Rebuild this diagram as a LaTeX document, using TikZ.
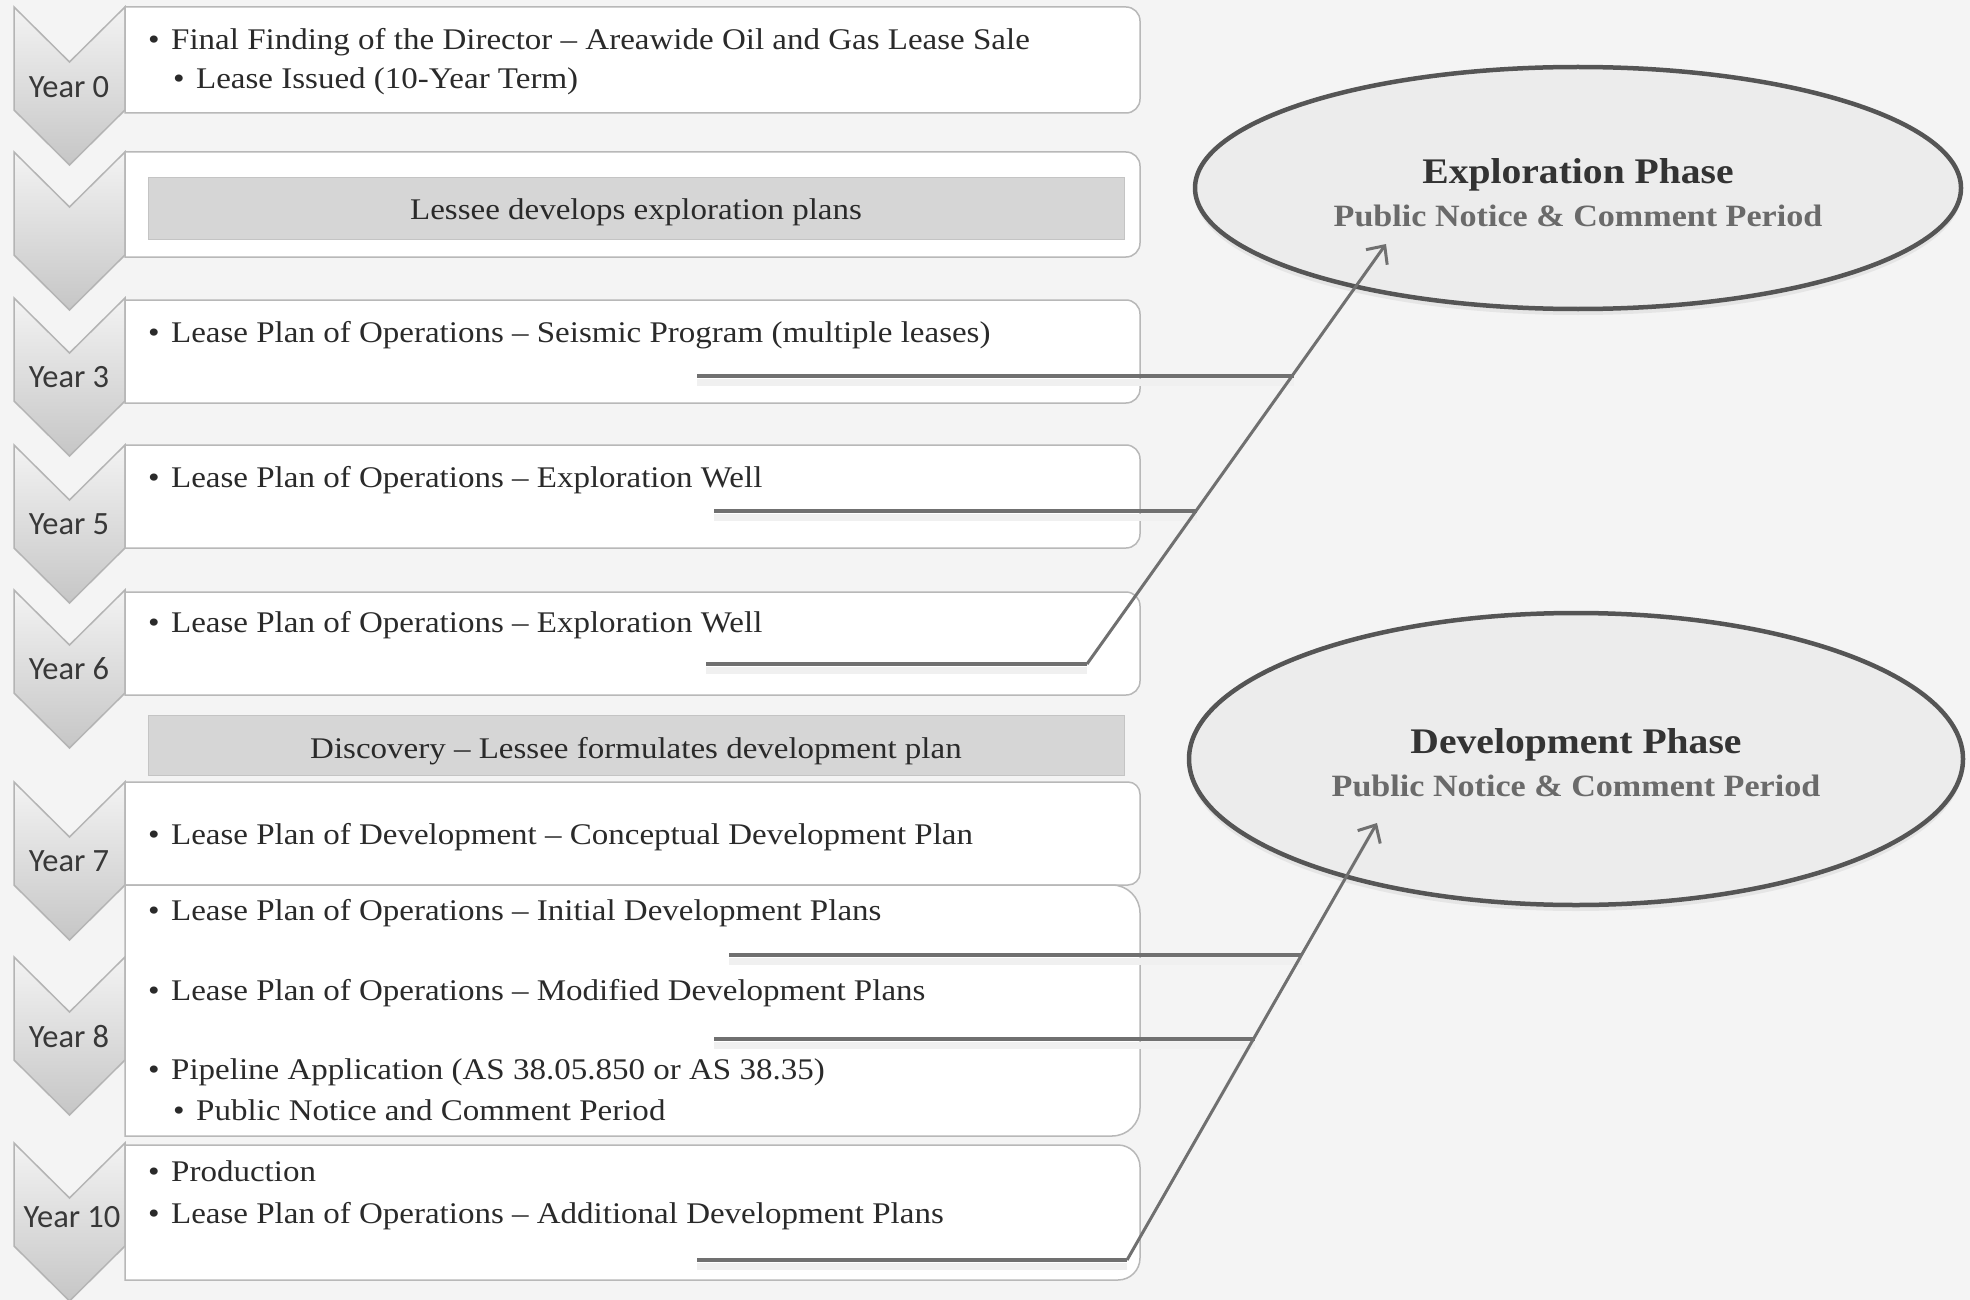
\documentclass[tikz,border=0pt]{standalone}
\usepackage{fontspec}
\setmainfont{Liberation Serif}[FakeStretch=1.1]
\newfontfamily\yearfont{Carlito}
\usetikzlibrary{shapes.geometric,arrows.meta,shadows}
\definecolor{bgcol}{HTML}{F4F4F4}
\definecolor{chevline}{HTML}{B4B4B4}
\definecolor{chevtop}{HTML}{F3F3F3}
\definecolor{chevbot}{HTML}{C6C6C6}
\definecolor{boxline}{HTML}{B8B8B8}
\definecolor{bandfill}{HTML}{D6D6D6}
\definecolor{bandline}{HTML}{C4C4C4}
\definecolor{txtcol}{HTML}{2A2A2A}
\definecolor{yrcol}{HTML}{383838}
\definecolor{conncol}{HTML}{707070}
\definecolor{ellcol}{HTML}{555555}
\definecolor{ellfill}{HTML}{ECECEC}
\definecolor{titlecol}{HTML}{333333}
\definecolor{subcol}{HTML}{6A6A6A}
\newcommand\mybul{\makebox[23pt][l]{\textbullet}}
\newcommand\mychev[1]{%
  \path[chev] (14,#1) -- (69.5,{#1+55}) -- (125,#1) -- (125,{#1+103}) -- (69.5,{#1+158}) -- (14,{#1+103}) -- cycle;}
\newcommand\mybox[3]{%
  \path[wbox] (125,#1) -- ({1140-#3},#1) arc[start angle=-90,end angle=0,radius=#3] -- (1140,{#2-#3}) arc[start angle=0,end angle=90,radius=#3] -- (125,#2) -- cycle;}
\tikzset{
  chev/.style={draw=chevline, line width=1.5pt, top color=chevtop, bottom color=chevbot},
  wbox/.style={draw=boxline, line width=1.5pt, fill=white},
  band/.style={draw=bandline, line width=1pt, fill=bandfill},
  txt/.style={anchor=mid west, inner sep=0pt, text=txtcol, font=\fontsize{30}{32}\selectfont},
  bandtxt/.style={anchor=mid, inner sep=0pt, text=txtcol, font=\fontsize{30}{32}\selectfont},
  yr/.style={anchor=mid, inner sep=0pt, text=yrcol, font=\yearfont\fontsize{32.5}{34}\selectfont},
  conn/.style={draw=conncol, line width=4pt},
  connsh/.style={draw=black!6, line width=7pt},
  diag/.style={draw=conncol, line width=3pt, -{Straight Barb[length=14pt,width=26pt,line width=3pt]}},
  phase/.style={ellipse, draw=ellcol, line width=4.5pt, fill=ellfill, inner sep=0pt,
    drop shadow={opacity=0.12, shadow xshift=0pt, shadow yshift=-6pt}},
  ttl/.style={anchor=mid, inner sep=0pt, text=titlecol, font=\bfseries\fontsize{36}{38}\selectfont},
  sub/.style={anchor=mid, inner sep=0pt, text=subcol, font=\bfseries\fontsize{31}{33}\selectfont}
}
\begin{document}
\begin{tikzpicture}[x=1pt,y=-1pt]
\useasboundingbox (0,0) rectangle (1970,1300);
\fill[bgcol] (0,0) rectangle (1970,1300);

% chevrons
\mychev{7}
\mychev{152}
\mychev{298}
\mychev{445}
\mychev{590}
\mychev{782}
\mychev{957}
\mychev{1143}

% boxes
\mybox{7}{113}{14}
\mybox{152}{257}{14}
\mybox{300}{403}{14}
\mybox{445}{548}{14}
\mybox{592}{695}{14}
\mybox{782}{885}{12}
\mybox{885}{1136}{28}
\mybox{1145}{1280}{22}

% bands
\path[band] (148,178) rectangle (1124,239);
\path[band] (148,715) rectangle (1124,775);

% year labels
\node[yr] (y0) at (69,95) {Year 0};
\node[yr] (y3) at (69,385) {Year 3};
\node[yr] (y5) at (69,532) {Year 5};
\node[yr] (y6) at (69,677) {Year 6};
\node[yr] (y7) at (69,869) {Year 7};
\node[yr] (y8) at (69,1045) {Year 8};
\node[yr] (y10) at (72,1225) {Year 10};

% texts
\node[txt] (t0a) at (148,47) {\mybul Final Finding of the Director – Areawide Oil and Gas Lease Sale};
\node[txt] (t0b) at (173,86) {\mybul Lease Issued (10-Year Term)};
\node[bandtxt] (b1) at (636,217) {Lessee develops exploration plans};
\node[txt] (t3) at (148,340) {\mybul Lease Plan of Operations – Seismic Program (multiple leases)};
\node[txt] (t5) at (148,485) {\mybul Lease Plan of Operations – Exploration Well};
\node[txt] (t6) at (148,630) {\mybul Lease Plan of Operations – Exploration Well};
\node[bandtxt] (b2) at (636,756) {Discovery – Lessee formulates development plan};
\node[txt] (t7) at (148,842) {\mybul Lease Plan of Development – Conceptual Development Plan};
\node[txt] (t8a) at (148,918) {\mybul Lease Plan of Operations – Initial Development Plans};
\node[txt] (t8b) at (148,998) {\mybul Lease Plan of Operations – Modified Development Plans};
\node[txt] (t8c) at (148,1077) {\mybul Pipeline Application (AS 38.05.850 or AS 38.35)};
\node[txt] (t8d) at (173,1118) {\mybul Public Notice and Comment Period};
\node[txt] (t10a) at (148,1179) {\mybul Production};
\node[txt] (t10b) at (148,1221) {\mybul Lease Plan of Operations – Additional Development Plans};

% ellipses
\node[phase, minimum width=766pt, minimum height=242pt] (expl) at (1578,188) {};
\node[ttl] (explT) at (1578,181) {Exploration Phase};
\node[sub] (explS) at (1578,224) {Public Notice \& Comment Period};
\node[phase, minimum width=774pt, minimum height=292pt] (devl) at (1576,759) {};
\node[ttl] (devlT) at (1576,751) {Development Phase};
\node[sub] (devlS) at (1576,794) {Public Notice \& Comment Period};

% connector coordinates
\coordinate (e1s) at (697,376); \coordinate (e1e) at (1294,376);
\coordinate (e2s) at (714,511); \coordinate (e2e) at (1197,511);
\coordinate (e3s) at (706,664); \coordinate (e3e) at (1087,664);
\coordinate (etip) at (1386,244);
\coordinate (d1s) at (729,955); \coordinate (d1e) at (1302,955);
\coordinate (d2s) at (714,1039); \coordinate (d2e) at (1255,1039);
\coordinate (d3s) at (697,1260); \coordinate (d3e) at (1127,1260);
\coordinate (dtip) at (1377,823);

% soft shadows of horizontal connectors
\foreach \a/\b in {e1s/e1e,e2s/e2e,e3s/e3e,d1s/d1e,d2s/d2e,d3s/d3e}
  \draw[connsh] ([yshift=-6pt]\a) -- ([yshift=-6pt]\b);

% connectors
\draw[conn] (e1s) -- (e1e);
\draw[conn] (e2s) -- (e2e);
\draw[conn] (e3s) -- (e3e);
\draw[diag] (e3e) -- (etip);
\draw[conn] (d1s) -- (d1e);
\draw[conn] (d2s) -- (d2e);
\draw[conn] (d3s) -- (d3e);
\draw[diag] (d3e) -- (dtip);
\end{tikzpicture}
\end{document}
